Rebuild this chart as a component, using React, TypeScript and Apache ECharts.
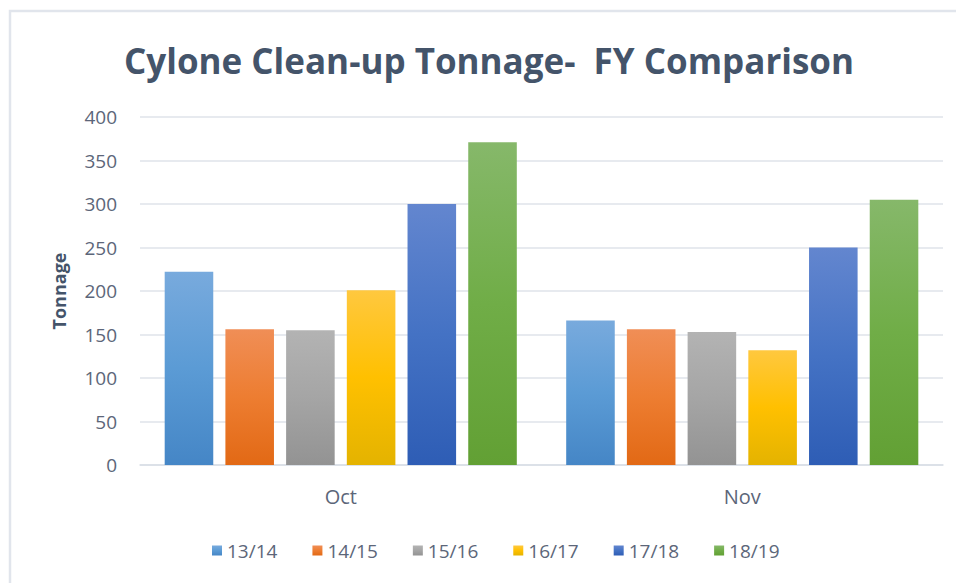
import React, { useEffect, useRef } from "react";
import * as echarts from "echarts";

const categories = ["Oct", "Nov"];
const seriesNames = ["13/14", "14/15", "15/16", "16/17", "17/18", "18/19"];
const values13_14 = [222, 166];
const values14_15 = [156, 156];
const values15_16 = [155, 153];
const values16_17 = [201, 132];
const values17_18 = [300, 250];
const values18_19 = [371, 305];
const yTicks = [0, 50, 100, 150, 200, 250, 300, 350, 400];

const baseColors = ["#5B9BD5", "#ED7D31", "#A5A5A5", "#FFC000", "#4472C4", "#70AD47"];
const topColors = ["#78AADD", "#F08E56", "#B3B3B3", "#FFC83F", "#6386CF", "#86B86A"];
const bottomColors = ["#4586C6", "#E26915", "#939393", "#E4B300", "#2E5DB5", "#62A034"];

export default function App() {
  const ref = useRef<HTMLDivElement>(null);
  useEffect(() => {
    if (!ref.current) return;
    const chart = echarts.init(ref.current, null, { renderer: "svg" });
    const allValues = [values13_14, values14_15, values15_16, values16_17, values17_18, values18_19];
    const font = "'Open Sans', 'Noto Sans', sans-serif";
    chart.setOption({
      animation: false,
      backgroundColor: "#ffffff",
      graphic: [
        {
          type: "rect",
          shape: { x: 10, y: 11, width: 1000, height: 1000 },
          style: { fill: "none", stroke: "#E1E5EC", lineWidth: 2.5 },
          silent: true,
        },
        {
          type: "text",
          x: 489,
          y: 60,
          style: {
            text: "Cylone Clean-up Tonnage-  FY Comparison",
            font: "bold 35px " + font,
            fill: "#44546A",
            align: "center",
            verticalAlign: "middle",
          },
        },
      ],
      legend: {
        data: seriesNames,
        left: 207,
        top: 536,
        itemWidth: 10,
        itemHeight: 10,
        itemGap: 35,
        icon: "rect",
        textStyle: { fontFamily: font, fontSize: 19, color: "#5C6679" },
      },
      grid: { left: 140, right: 13, top: 117, bottom: 118 },
      xAxis: {
        type: "category",
        data: categories,
        axisLine: { lineStyle: { color: "#D9DEE6", width: 1.5 } },
        axisTick: { show: false },
        axisLabel: { fontFamily: font, fontSize: 20, color: "#5C6679", margin: 21 },
      },
      yAxis: {
        type: "value",
        min: 0,
        max: 400,
        interval: 50,
        name: "Tonnage",
        nameLocation: "middle",
        nameRotate: 90,
        nameGap: 72,
        nameTextStyle: { fontFamily: font, fontSize: 18, fontWeight: "bold", color: "#44546A" },
        axisLine: { show: false },
        axisTick: { show: false },
        splitLine: { lineStyle: { color: "#DFE3EA", width: 1.5 } },
        axisLabel: {
          fontFamily: font,
          fontSize: 19,
          color: "#5C6679",
          margin: 23,
          formatter: (v: number) => (yTicks.includes(v) ? String(v) : ""),
        },
      },
      series: seriesNames.map((name, i) => ({
        name,
        type: "bar",
        data: allValues[i],
        barGap: "25%",
        barCategoryGap: "12.3%",
        itemStyle: {
          color: new echarts.graphic.LinearGradient(0, 0, 0, 1, [
            { offset: 0, color: topColors[i] },
            { offset: 0.5, color: baseColors[i] },
            { offset: 1, color: bottomColors[i] },
          ]),
        },
      })),
      color: baseColors,
    });
    return () => chart.dispose();
  }, []);
  return (
    <div
      ref={ref}
      style={{ position: "fixed", left: 0, top: 0, width: 956, height: 583 }}
    />
  );
}
